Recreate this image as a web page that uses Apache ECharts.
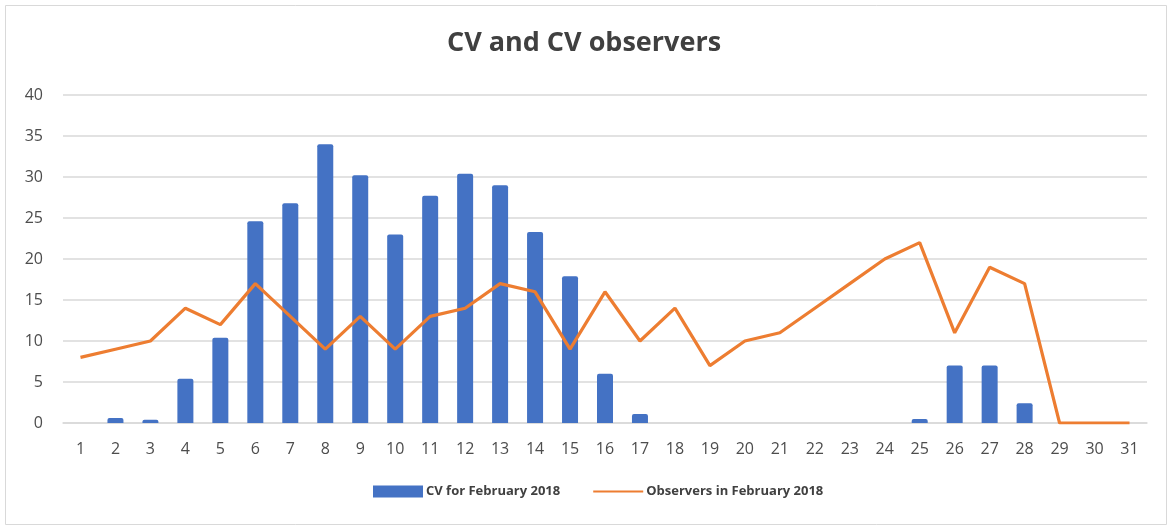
<!DOCTYPE html>
<html><head><meta charset="utf-8">
<script src="https://cdn.jsdelivr.net/npm/echarts@6/dist/echarts.min.js"></script>
<style>html,body{margin:0;padding:0;background:#fff}#c{width:1168px;height:527px}</style>
</head><body><div id="c"></div>
<script>
var days = ['1','2','3','4','5','6','7','8','9','10','11','12','13','14','15','16','17','18','19','20','21','22','23','24','25','26','27','28','29','30','31'];
var cvValues = [0,0.6,0.4,5.4,10.4,24.6,26.8,34.0,30.2,23.0,27.7,30.4,29.0,23.3,17.9,6.0,1.1,0,0,0,0,0,0,0,0.5,7.0,7.0,2.4,0,0,0];
var observers = [8,9,10,14,12,17,13,9,13,9,13,14,17,16,9,16,10,14,7,10,11,14,17,20,22,11,19,17,0,0,0];
var yTicks = {min:0, max:40, interval:5};

var chart = echarts.init(document.getElementById('c'));
chart.setOption({
  animation:false,
  backgroundColor:'#fff',
  graphic:[{type:'rect',shape:{x:5.5,y:5.5,width:1161,height:519},style:{fill:'none',stroke:'#d9d9d9',lineWidth:1}}],
  title:{text:'CV and CV observers',left:'center',top:25,textStyle:{fontFamily:'Open Sans',fontWeight:'bold',fontSize:27,color:'#404040'}},
  legend:{bottom:24,left:368,itemWidth:50,itemHeight:12,itemGap:32,
    textStyle:{fontFamily:'Open Sans',fontWeight:'bold',fontSize:13,color:'#404040',padding:[0,0,0,-2]},
    data:[{name:'CV for February 2018',icon:'rect'},{name:'Observers in February 2018',itemStyle:{opacity:0}}]},
  grid:{left:63,right:21,top:95,bottom:104,containLabel:false},
  xAxis:{type:'category',data:days,boundaryGap:true,
    axisLine:{show:true,lineStyle:{color:'#d9d9d9',width:1.5}},axisTick:{show:false},
    axisLabel:{fontFamily:'Open Sans',fontSize:16,color:'#4d4d4d',margin:18,interval:0}},
  yAxis:{type:'value',min:yTicks.min,max:yTicks.max,interval:yTicks.interval,
    axisLine:{show:false},axisTick:{show:false},
    splitLine:{lineStyle:{color:'#d9d9d9',width:1.5}},
    axisLabel:{fontFamily:'Open Sans',fontSize:16,color:'#4d4d4d',margin:20}},
  series:[
    {name:'CV for February 2018',type:'bar',data:cvValues,barWidth:16,
     itemStyle:{color:'#4472C4',borderRadius:[2,2,0,0]}},
    {name:'Observers in February 2018',type:'line',data:observers,symbol:'none',
     lineStyle:{color:'#ED7D31',width:3.2},itemStyle:{color:'#ED7D31'}}
  ]
});
</script></body></html>
